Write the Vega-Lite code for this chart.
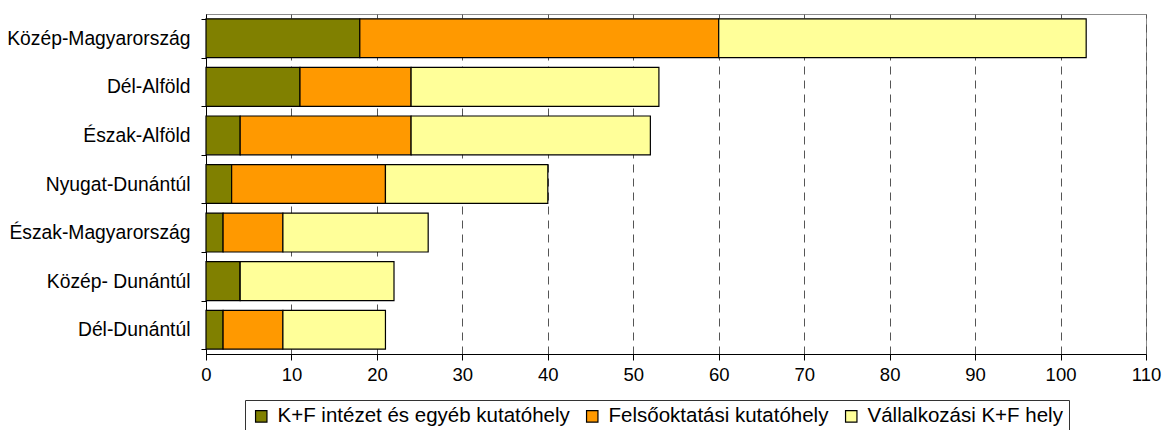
{
  "$schema": "https://vega.github.io/schema/vega-lite/v6.json",
  "width": 940,
  "height": 340,
  "autosize": {"type": "none"},
  "padding": {"left": 206, "top": 14, "right": 22, "bottom": 76},
  "background": "white",
  "config": {
    "font": "Liberation Sans",
    "view": {"stroke": "#8c8c8c", "strokeWidth": 1}
  },
  "data": {
    "values": [
      {"region": "Közép-Magyarország", "type": "K+F intézet és egyéb kutatóhely", "ord": 1, "value": 18},
      {"region": "Közép-Magyarország", "type": "Felsőoktatási kutatóhely", "ord": 2, "value": 42},
      {"region": "Közép-Magyarország", "type": "Vállalkozási K+F hely", "ord": 3, "value": 43},
      {"region": "Dél-Alföld", "type": "K+F intézet és egyéb kutatóhely", "ord": 1, "value": 11},
      {"region": "Dél-Alföld", "type": "Felsőoktatási kutatóhely", "ord": 2, "value": 13},
      {"region": "Dél-Alföld", "type": "Vállalkozási K+F hely", "ord": 3, "value": 29},
      {"region": "Észak-Alföld", "type": "K+F intézet és egyéb kutatóhely", "ord": 1, "value": 4},
      {"region": "Észak-Alföld", "type": "Felsőoktatási kutatóhely", "ord": 2, "value": 20},
      {"region": "Észak-Alföld", "type": "Vállalkozási K+F hely", "ord": 3, "value": 28},
      {"region": "Nyugat-Dunántúl", "type": "K+F intézet és egyéb kutatóhely", "ord": 1, "value": 3},
      {"region": "Nyugat-Dunántúl", "type": "Felsőoktatási kutatóhely", "ord": 2, "value": 18},
      {"region": "Nyugat-Dunántúl", "type": "Vállalkozási K+F hely", "ord": 3, "value": 19},
      {"region": "Észak-Magyarország", "type": "K+F intézet és egyéb kutatóhely", "ord": 1, "value": 2},
      {"region": "Észak-Magyarország", "type": "Felsőoktatási kutatóhely", "ord": 2, "value": 7},
      {"region": "Észak-Magyarország", "type": "Vállalkozási K+F hely", "ord": 3, "value": 17},
      {"region": "Közép- Dunántúl", "type": "K+F intézet és egyéb kutatóhely", "ord": 1, "value": 4},
      {"region": "Közép- Dunántúl", "type": "Felsőoktatási kutatóhely", "ord": 2, "value": 0},
      {"region": "Közép- Dunántúl", "type": "Vállalkozási K+F hely", "ord": 3, "value": 18},
      {"region": "Dél-Dunántúl", "type": "K+F intézet és egyéb kutatóhely", "ord": 1, "value": 2},
      {"region": "Dél-Dunántúl", "type": "Felsőoktatási kutatóhely", "ord": 2, "value": 7},
      {"region": "Dél-Dunántúl", "type": "Vállalkozási K+F hely", "ord": 3, "value": 12}
    ]
  },
  "mark": {"type": "bar", "stroke": "black", "strokeWidth": 1.2},
  "encoding": {
    "y": {
      "field": "region",
      "type": "nominal",
      "sort": null,
      "scale": {"paddingInner": 0.2, "paddingOuter": 0.1},
      "axis": {
        "title": null,
        "tickBand": "extent",
        "domainColor": "black",
        "tickColor": "black",
        "tickSize": 5,
        "labelFontSize": 19.3,
        "labelColor": "black",
        "labelPadding": 11,
        "labelLimit": 300,
        "grid": false
      }
    },
    "x": {
      "field": "value",
      "type": "quantitative",
      "stack": "zero",
      "scale": {"domain": [0, 110], "nice": false},
      "axis": {
        "title": null,
        "values": [0, 10, 20, 30, 40, 50, 60, 70, 80, 90, 100, 110],
        "grid": true,
        "gridColor": "#555555",
        "gridDash": [8, 6],
        "gridWidth": 1,
        "domainColor": "black",
        "tickColor": "black",
        "tickSize": 6,
        "labelFontSize": 18.5,
        "labelColor": "black",
        "labelPadding": 5,
        "labelFlush": false
      }
    },
    "color": {
      "field": "type",
      "type": "nominal",
      "sort": ["K+F intézet és egyéb kutatóhely", "Felsőoktatási kutatóhely", "Vállalkozási K+F hely"],
      "scale": {
        "domain": ["K+F intézet és egyéb kutatóhely", "Felsőoktatási kutatóhely", "Vállalkozási K+F hely"],
        "range": ["#808000", "#FF9900", "#FFFF99"]
      },
      "legend": {
        "title": null,
        "orient": "none",
        "legendX": 39,
        "legendY": 386,
        "direction": "horizontal",
        "symbolType": "square",
        "symbolSize": 130,
        "symbolStrokeColor": "black",
        "symbolStrokeWidth": 1.2,
        "labelFontSize": 20.5,
        "labelLimit": 400,
        "labelColor": "black",
        "columnPadding": 12,
        "symbolOffset": 0,
        "labelOffset": 6,
        "strokeColor": "#333333",
        "padding": 6,
        "fillColor": "white"
      }
    },
    "order": {"field": "ord", "type": "quantitative"}
  }
}
